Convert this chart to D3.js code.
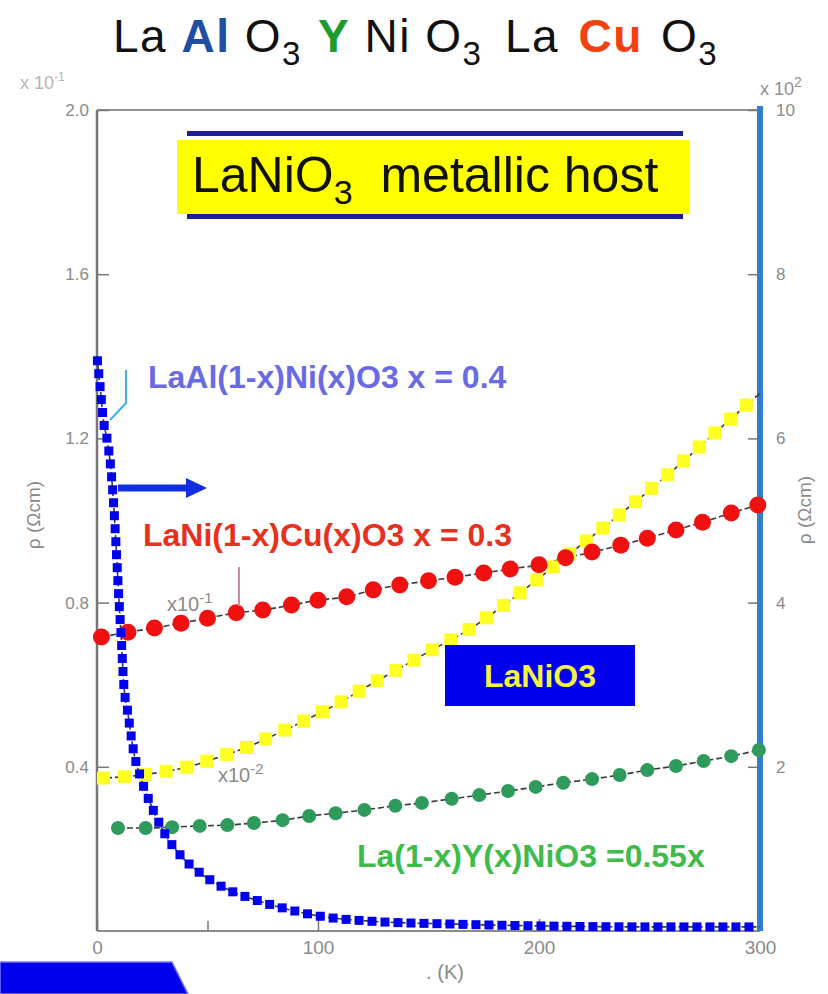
<!DOCTYPE html>
<html>
<head>
<meta charset="utf-8">
<script src="https://cdn.jsdelivr.net/npm/d3@7"></script>
<style>
  body { margin: 0; background: #fff; }
  svg { display: block; font-family: "Liberation Sans", Arial, sans-serif; }
</style>
</head>
<body>
<svg id="chart" width="828" height="994"></svg>
<script>
// Data
// LaAl(1-x)Ni(x)O3, right axis (x10^2 ohm cm)
var alT   = [0, 1.5, 3, 4.5, 6, 7, 8, 9, 10, 11, 12, 14, 16.5, 20, 25, 31, 37.5, 46.5, 58, 71.5, 87, 101, 123.5, 160, 205, 250, 300];
var alRho = [7.0, 6.6, 6.2, 6.0, 5.7, 5.4, 5.0, 4.5, 4.0, 3.55, 3.05, 2.65, 2.2, 1.85, 1.5, 1.17, 0.93, 0.71, 0.52, 0.38, 0.26, 0.18, 0.12, 0.085, 0.06, 0.05, 0.05];
// LaNi(1-x)Cu(x)O3, left axis
var cuT   = [2, 14, 26, 38, 50, 63, 75, 88, 100, 113, 125, 137, 150, 162, 175, 187, 200, 212, 224, 237, 249, 262, 274, 287, 299];
var cuRho = [0.716, 0.728, 0.738, 0.750, 0.762, 0.775, 0.782, 0.794, 0.806, 0.814, 0.831, 0.843, 0.853, 0.862, 0.872, 0.882, 0.892, 0.909, 0.923, 0.940, 0.957, 0.977, 0.996, 1.018, 1.038];
// La(1-x)Y(x)NiO3, left axis
var yT    = [9.5, 22, 34, 46.5, 59, 71, 84, 96, 108, 121, 135, 147, 160.5, 173, 186, 198.5, 211, 224, 236.5, 249, 262, 274.5, 287, 299.5];
var yRho  = [0.251, 0.251, 0.253, 0.256, 0.258, 0.263, 0.270, 0.280, 0.287, 0.295, 0.305, 0.312, 0.322, 0.331, 0.341, 0.351, 0.361, 0.370, 0.380, 0.392, 0.402, 0.414, 0.426, 0.441];
// LaNiO3 host, left axis
var hostT   = [0, 15, 28, 42, 55, 69, 82, 96, 110, 123, 137, 149, 170, 191, 213, 236, 258, 281, 300];
var hostRho = [0.372, 0.377, 0.386, 0.401, 0.423, 0.450, 0.482, 0.518, 0.557, 0.598, 0.640, 0.677, 0.740, 0.822, 0.915, 1.012, 1.11, 1.22, 1.31];

var xTicks = [0, 100, 200, 300];
var xMinor = [50];
var leftTicks = [0.4, 0.8, 1.2, 1.6, 2.0];
var rightTicks = [2, 4, 6, 8, 10];

var svg = d3.select("#chart");

var x  = d3.scaleLinear().domain([0, 300]).range([97, 760]);
var yL = d3.scaleLinear().domain([0, 2]).range([931, 110]);
var yR = d3.scaleLinear().domain([0, 10]).range([931, 110]);

// Title formulas
function formula(g, px, py, size, parts) {
  var t = g.append("text").attr("x", px).attr("y", py).style("font-size", size + "px")
    .style("letter-spacing", "1.5px").style("white-space", "pre");
  parts.forEach(function(p) {
    var s = t.append("tspan").text(p[0]).style("fill", p[1] || "#111");
    if (p[2] == "b") s.style("font-weight", "bold");
    if (p[2] == "sub") s.attr("dy", size * 0.28).style("font-size", (size * 0.72) + "px");
    if (p[3]) s.attr("dx", p[3]);
  });
  return t;
}
formula(svg, 113, 52, 46, [["La "], ["Al", "#1f4ea6", "b"], [" O"], ["3", null, "sub"]]);
formula(svg, 318, 52, 46, [["Y", "#1f9a2c", "b"], [" Ni O"], ["3", null, "sub"]]);
formula(svg, 505, 52, 46, [["La "], ["Cu", "#f2400f", "b", 5], [" O", null, null, 4], ["3", null, "sub"]]);

// frame
svg.append("line").attr("x1", x(0)).attr("x2", x(300)).attr("y1", yL(2)).attr("y2", yL(2))
  .style("stroke", "#6f6f6f").style("stroke-width", 1.5);
svg.append("line").attr("x1", x(0)).attr("x2", x(300)).attr("y1", yL(0)).attr("y2", yL(0))
  .style("stroke", "#8a8a8a").style("stroke-width", 2);
svg.append("line").attr("x1", x(0)).attr("x2", x(0)).attr("y1", yL(2)).attr("y2", yL(0))
  .style("stroke", "#777").style("stroke-width", 2.5);

// axes
var gl = svg.append("g").attr("transform", "translate(" + x(0) + ",0)")
  .call(d3.axisLeft(yL).tickValues(leftTicks).tickFormat(d3.format(".1f")).tickSizeInner(-12).tickSizeOuter(0).tickPadding(8));
var gb = svg.append("g").attr("transform", "translate(0," + yL(0) + ")")
  .call(d3.axisBottom(x).tickValues(xTicks).tickFormat(d3.format("d")).tickSizeInner(-12).tickSizeOuter(0).tickPadding(10));
svg.append("g").attr("transform", "translate(0," + yL(0) + ")")
  .call(d3.axisBottom(x).tickValues(xMinor).tickFormat("").tickSizeInner(-10).tickSizeOuter(0));
var gr = svg.append("g").attr("transform", "translate(" + x(300) + ",0)")
  .call(d3.axisRight(yR).tickValues(rightTicks).tickFormat(d3.format("d")).tickSizeInner(-12).tickSizeOuter(0).tickPadding(16));
svg.selectAll(".domain").remove();
svg.selectAll(".tick line").style("stroke", "#777").style("stroke-width", 1.5);
svg.selectAll(".tick text").style("fill", "#8a8a8a").style("font-size", "17px").style("font-family", "\"Liberation Sans\", Arial, sans-serif");
gb.selectAll(".tick text").style("font-size", "19px");

// right blue axis line
svg.append("line").attr("x1", x(300)).attr("x2", x(300)).attr("y1", yR(10) - 4).attr("y2", yR(0))
  .style("stroke", "#2f7fcf").style("stroke-width", 6);

// axis titles and multipliers
svg.append("text").attr("transform", "translate(40,515) rotate(-90)").attr("text-anchor", "middle")
  .style("fill", "#8a8a8a").style("font-size", "19px").text("ρ (Ωcm)");
svg.append("text").attr("transform", "translate(811,510) rotate(-90)").attr("text-anchor", "middle")
  .style("fill", "#8a8a8a").style("font-size", "19px").text("ρ (Ωcm)");
svg.append("text").attr("x", 445).attr("y", 979).attr("text-anchor", "middle")
  .style("fill", "#8a8a8a").style("font-size", "20px").text(". (K)");
var m1 = svg.append("text").attr("x", 20).attr("y", 89).style("fill", "#b5b5b5").style("font-size", "18px");
m1.append("tspan").text("x 10");
m1.append("tspan").attr("dy", -8).style("font-size", "12px").text("-1");
var m2 = svg.append("text").attr("x", 760).attr("y", 95).style("fill", "#8f8f8f").style("font-size", "18px");
m2.append("tspan").text("x 10");
m2.append("tspan").attr("dy", -8).style("font-size", "14px").text("2");

// series lines
var lineL = d3.line().x(function(d) { return x(d[0]); }).y(function(d) { return yL(d[1]); }).curve(d3.curveMonotoneX);
var lineR = d3.line().x(function(d) { return x(d[0]); }).y(function(d) { return yR(d[1]); }).curve(d3.curveMonotoneX);

var alData   = d3.zip(alT, alRho);
var cuData   = d3.zip(cuT, cuRho);
var yData    = d3.zip(yT, yRho);
var hostData = d3.zip(hostT, hostRho);

function fitLine(d) {
  return svg.append("path").attr("d", d).style("fill", "none")
    .style("stroke", "#3a3a3a").style("stroke-width", 1.6).style("stroke-dasharray", "6 3");
}
var hostPath = fitLine(lineL(hostData));
var cuPath = fitLine(lineL(cuData));
var yPath = fitLine(lineL(yData));
var alPath = fitLine(lineR(alData));

// square markers spaced along a curve
function squaresAlong(path, step, size, color) {
  var node = path.node(), len = node.getTotalLength(), pts = [];
  for (var l = size / 2; l <= len; l += step) pts.push(node.getPointAtLength(l));
  svg.append("g").selectAll("rect").data(pts).join("rect")
    .attr("x", function(p) { return p.x - size / 2; })
    .attr("y", function(p) { return p.y - size / 2; })
    .attr("width", size).attr("height", size)
    .style("fill", color);
}
squaresAlong(hostPath, 21, 13, "#ffff22");

svg.append("g").selectAll("circle").data(cuData).join("circle")
  .attr("cx", function(d) { return x(d[0]); }).attr("cy", function(d) { return yL(d[1]); })
  .attr("r", 8.5).style("fill", "#f01010");
svg.append("g").selectAll("circle").data(yData).join("circle")
  .attr("cx", function(d) { return x(d[0]); }).attr("cy", function(d) { return yL(d[1]); })
  .attr("r", 7).style("fill", "#2e9a5c");

squaresAlong(alPath, 13, 9, "#0000ee");

// title box
svg.append("rect").attr("x", 177).attr("y", 140).attr("width", 513).attr("height", 74).style("fill", "#ffff00");
svg.append("rect").attr("x", 187).attr("y", 131).attr("width", 496).attr("height", 5).style("fill", "#1c1c9c");
svg.append("rect").attr("x", 187).attr("y", 214).attr("width", 496).attr("height", 5).style("fill", "#1c1c9c");
var tb = svg.append("text").attr("x", 192).attr("y", 192).style("font-size", "50px").style("fill", "#111")
  .style("white-space", "pre");
tb.append("tspan").text("LaNiO");
tb.append("tspan").attr("dy", 12).style("font-size", "34px").text("3");
tb.append("tspan").attr("dy", -12).text("  metallic host");

// LaNiO3 box
svg.append("rect").attr("x", 445).attr("y", 645).attr("width", 190).attr("height", 61).style("fill", "#0000ee");
svg.append("text").attr("x", 540).attr("y", 687).attr("text-anchor", "middle")
  .style("font-size", "32px").style("font-weight", "bold").style("fill", "#f5f540").text("LaNiO3");

// series labels
function label(px, py, color, s) {
  svg.append("text").attr("x", px).attr("y", py).style("font-size", "32px").style("font-weight", "bold")
    .style("fill", color).text(s);
}
label(148, 388, "#6a6ae6", "LaAl(1-x)Ni(x)O3 x = 0.4");
label(143, 546, "#e8301e", "LaNi(1-x)Cu(x)O3 x = 0.3");
label(357, 867, "#3fbb4c", "La(1-x)Y(x)NiO3 =0.55x");

// small annotations
var s1 = svg.append("text").attr("x", 167).attr("y", 611).style("fill", "#8a8a8a").style("font-size", "20px");
s1.append("tspan").text("x10");
s1.append("tspan").attr("dy", -8).style("font-size", "15px").text("-1");
var s2 = svg.append("text").attr("x", 218).attr("y", 782).style("fill", "#8a8a8a").style("font-size", "20px");
s2.append("tspan").text("x10");
s2.append("tspan").attr("dy", -8).style("font-size", "15px").text("-2");
svg.append("line").attr("x1", 239).attr("x2", 239).attr("y1", 567).attr("y2", 606)
  .style("stroke", "#d08a9a").style("stroke-width", 2);
svg.append("path").attr("d", "M126,370 L126,403 L110,420").style("fill", "none")
  .style("stroke", "#3fb0e8").style("stroke-width", 2);

// arrow pointing to right axis
svg.append("line").attr("x1", 118).attr("x2", 188).attr("y1", 488).attr("y2", 488)
  .style("stroke", "#1030e0").style("stroke-width", 7);
svg.append("path").attr("d", "M186,478 L207,488 L186,498 Z").style("fill", "#1030e0");

// bottom-left blue tab
svg.append("path").attr("d", "M0,962 L172,962 L188,994 L0,994 Z")
  .style("fill", "#0000ee").style("stroke", "#7a7aff").style("stroke-width", 1.5);
</script>
</body>
</html>
